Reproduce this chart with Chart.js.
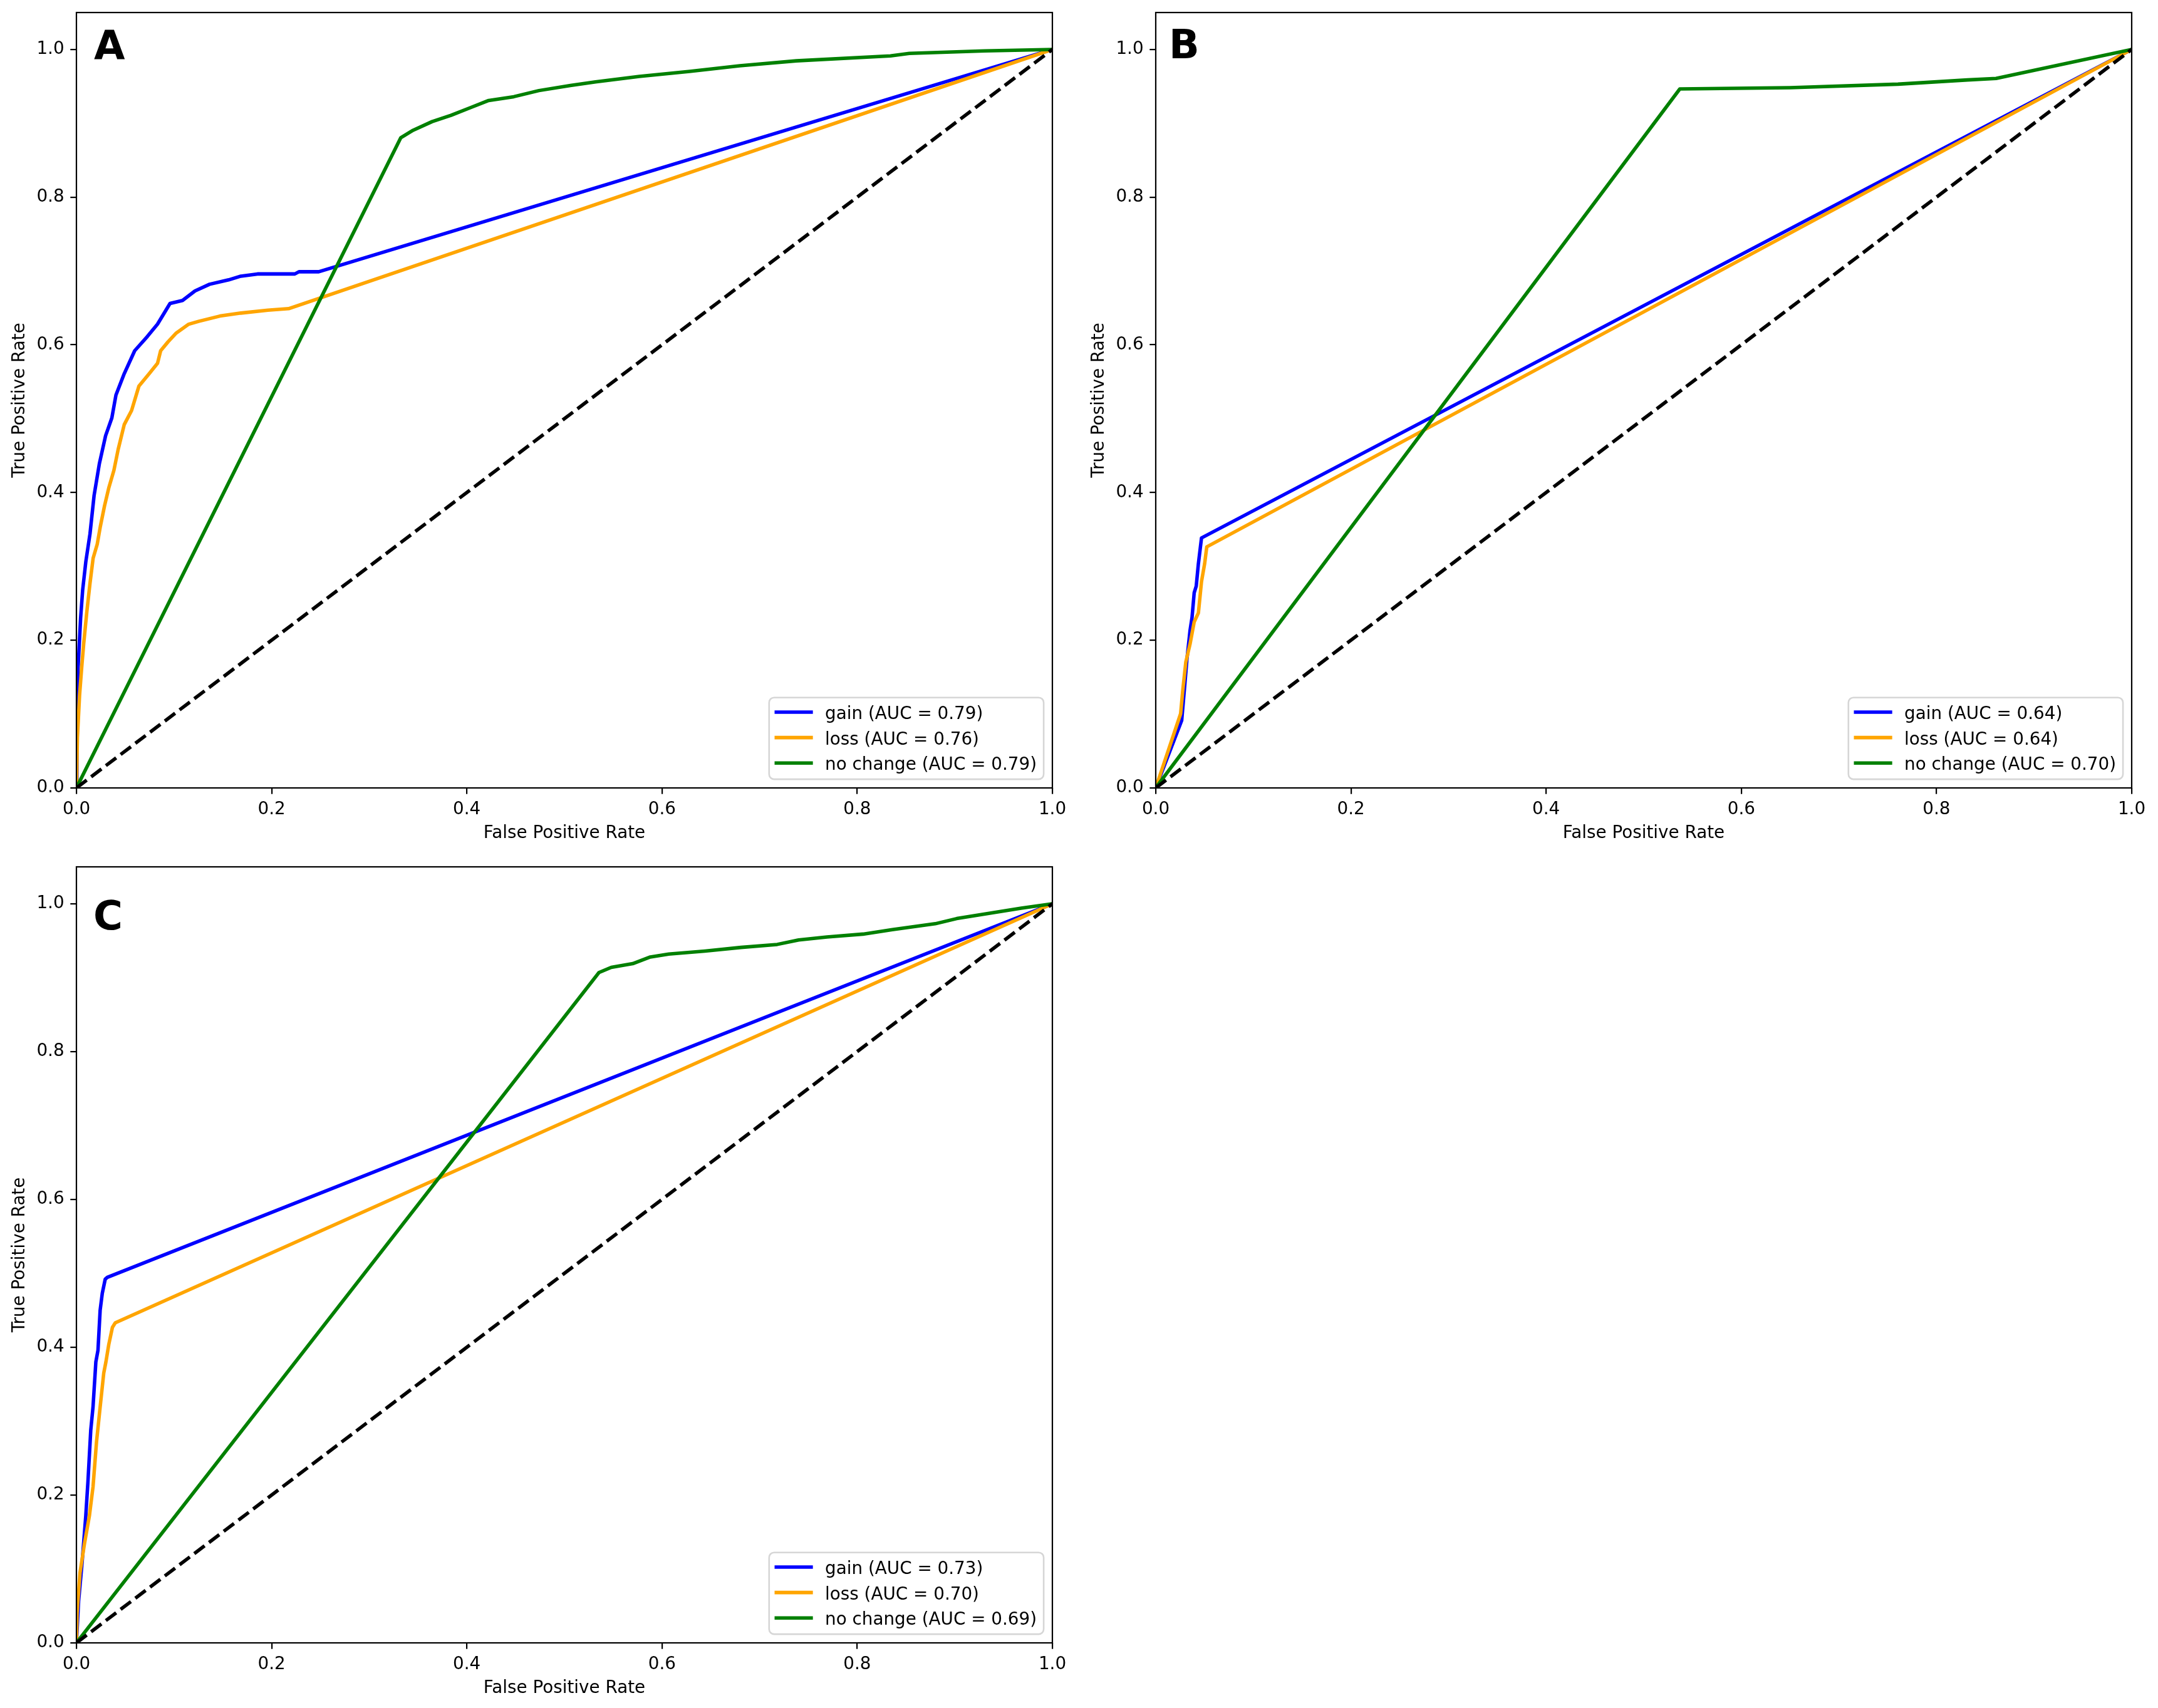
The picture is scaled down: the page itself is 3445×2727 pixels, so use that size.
<!DOCTYPE html>
<html>
<head>
<meta charset="utf-8">
<script src="https://cdn.jsdelivr.net/npm/chart.js@4.4.1/dist/chart.umd.min.js"></script>
<style>
html,body{margin:0;padding:0;background:#fff;}
body{width:3445px;height:2727px;position:relative;overflow:hidden;}
canvas{position:absolute;}
</style>
</head>
<body>
<canvas id="cA"></canvas>
<canvas id="cB"></canvas>
<canvas id="cC"></canvas>
<script>
// ---------------- DATA ----------------
const xTicks = [0, 0.2, 0.4, 0.6, 0.8, 1.0];
const yTicks = [0, 0.2, 0.4, 0.6, 0.8, 1.0];
const seriesNames = ['gain', 'loss', 'no change'];
const aucA = [0.79, 0.76, 0.79];
const aucB = [0.64, 0.64, 0.70];
const aucC = [0.73, 0.70, 0.69];
const diagFpr = [0, 1];
const diagTpr = [0, 1];

// Panel A
const A_gain_fpr = [0, 0.0005, 0.0017, 0.0043, 0.0064, 0.0096, 0.0139, 0.0181, 0.0235, 0.0299, 0.0363, 0.0405, 0.049, 0.0597, 0.0725, 0.0831, 0.0959, 0.1087, 0.1215, 0.1364, 0.156, 0.1684, 0.1855, 0.2238, 0.228, 0.2483, 1];
const A_gain_tpr = [0, 0.087, 0.163, 0.23, 0.268, 0.306, 0.344, 0.396, 0.439, 0.477, 0.501, 0.532, 0.561, 0.592, 0.611, 0.628, 0.656, 0.660, 0.673, 0.682, 0.688, 0.693, 0.696, 0.696, 0.699, 0.699, 1];
const A_loss_fpr = [0, 0.001, 0.0032, 0.0054, 0.0075, 0.0107, 0.0139, 0.0171, 0.0213, 0.0245, 0.0288, 0.0331, 0.0384, 0.0427, 0.049, 0.0565, 0.064, 0.0746, 0.0831, 0.0863, 0.0938, 0.1023, 0.1151, 0.1257, 0.1471, 0.1684, 0.1961, 0.2174, 1];
const A_loss_tpr = [0, 0.068, 0.125, 0.163, 0.196, 0.239, 0.277, 0.311, 0.330, 0.354, 0.382, 0.406, 0.430, 0.458, 0.492, 0.511, 0.544, 0.561, 0.575, 0.592, 0.604, 0.616, 0.628, 0.632, 0.639, 0.643, 0.647, 0.649, 1];
const A_nc_fpr = [0, 0.3324, 0.345, 0.3645, 0.3838, 0.4031, 0.4224, 0.4481, 0.4739, 0.5061, 0.5318, 0.5768, 0.6283, 0.6797, 0.7377, 0.8341, 0.8534, 0.9306, 1];
const A_nc_tpr = [0, 0.8805, 0.8906, 0.9023, 0.9108, 0.9209, 0.9309, 0.936, 0.9443, 0.9511, 0.9561, 0.9635, 0.9702, 0.9779, 0.9846, 0.9913, 0.9947, 0.998, 1];

// Panel B
const B_gain_fpr = [0, 0.0266, 0.0298, 0.0319, 0.0351, 0.0372, 0.0394, 0.0415, 0.0437, 0.0469, 1];
const B_gain_tpr = [0, 0.0914, 0.1399, 0.1733, 0.2127, 0.2309, 0.2643, 0.2733, 0.3036, 0.3385, 1];
const B_loss_fpr = [0, 0.0255, 0.0276, 0.0308, 0.0351, 0.0394, 0.0437, 0.0469, 0.0501, 0.0523, 1];
const B_loss_tpr = [0, 0.1005, 0.1308, 0.1703, 0.1945, 0.2248, 0.2369, 0.2794, 0.3036, 0.3264, 1];
const B_nc_fpr = [0, 0.537, 0.650, 0.7605, 0.8317, 0.861, 1];
const B_nc_tpr = [0, 0.9465, 0.9482, 0.953, 0.9587, 0.9607, 1];

// Panel C
const C_gain_fpr = [0, 0.0022, 0.0059, 0.0096, 0.0118, 0.0147, 0.017, 0.0199, 0.0221, 0.0243, 0.0265, 0.0295, 0.0317, 1];
const C_gain_tpr = [0, 0.056, 0.110, 0.172, 0.218, 0.288, 0.319, 0.380, 0.396, 0.450, 0.473, 0.492, 0.4946, 1];
const C_loss_fpr = [0, 0.0007, 0.0037, 0.0081, 0.0133, 0.017, 0.0206, 0.0243, 0.028, 0.0302, 0.0332, 0.0369, 0.0398, 1];
const C_loss_tpr = [0, 0.041, 0.095, 0.133, 0.172, 0.211, 0.272, 0.319, 0.365, 0.380, 0.404, 0.427, 0.433, 1];
const C_nc_fpr = [0, 0.5354, 0.548, 0.570, 0.588, 0.607, 0.644, 0.681, 0.718, 0.740, 0.769, 0.806, 0.836, 0.880, 0.902, 0.939, 0.968, 1];
const C_nc_tpr = [0, 0.907, 0.914, 0.919, 0.928, 0.932, 0.936, 0.941, 0.945, 0.951, 0.955, 0.959, 0.965, 0.973, 0.980, 0.988, 0.994, 1];

// ---------------- STYLE / LAYOUT ----------------
const COLORS = ['#0000ff', '#ffa500', '#008000'];
const FS = 27.8;           // 10pt @ 200dpi
const LW = 5.56;           // 2pt
const SPINE = 2.2;         // 0.8pt
const TICKLEN = 9.7;       // 3.5pt
const YAXW = 107, XAXH = 89, PADTOP = 32, PADRIGHT = 42;
const FAMILY = '"DejaVu Sans", "Liberation Sans", sans-serif';

Chart.defaults.font.family = FAMILY;
Chart.defaults.font.size = FS;
Chart.defaults.color = '#000';

const pts = (xs, ys) => xs.map((x, i) => ({x: x, y: ys[i]}));

const decor = {
  id: 'decor',
  afterDatasetsDraw(chart, args, opts) {
    const ctx = chart.ctx, a = chart.chartArea;
    ctx.save();
    // spines
    ctx.strokeStyle = '#000';
    ctx.lineWidth = SPINE;
    ctx.strokeRect(a.left, a.top, a.right - a.left, a.bottom - a.top);
    // panel letter
    ctx.fillStyle = '#000';
    ctx.font = 'bold 64px ' + FAMILY;
    ctx.textAlign = 'left';
    ctx.textBaseline = 'alphabetic';
    ctx.fillText(opts.letter, a.left + opts.dx, a.top + opts.dy);
    // legend
    ctx.font = FS + 'px ' + FAMILY;
    const items = chart.data.datasets.filter(d => d.inLegend);
    let maxW = 0;
    items.forEach(d => { maxW = Math.max(maxW, ctx.measureText(d.label).width); });
    const bw = 89.3 + maxW + 11.1, bh = 130.4;
    const bx = a.right - 13.9 - bw, by = a.bottom - 13.9 - bh;
    const r = 8;
    ctx.beginPath();
    ctx.moveTo(bx + r, by);
    ctx.lineTo(bx + bw - r, by);
    ctx.arcTo(bx + bw, by, bx + bw, by + r, r);
    ctx.lineTo(bx + bw, by + bh - r);
    ctx.arcTo(bx + bw, by + bh, bx + bw - r, by + bh, r);
    ctx.lineTo(bx + r, by + bh);
    ctx.arcTo(bx, by + bh, bx, by + bh - r, r);
    ctx.lineTo(bx, by + r);
    ctx.arcTo(bx, by, bx + r, by, r);
    ctx.closePath();
    ctx.fillStyle = 'rgba(255,255,255,0.8)';
    ctx.fill();
    ctx.strokeStyle = '#d6d6d6';
    ctx.lineWidth = 2.6;
    ctx.stroke();
    items.forEach((d, i) => {
      const ly = by + 23.3 + 40.6 * i;
      ctx.beginPath();
      ctx.strokeStyle = d.borderColor;
      ctx.lineWidth = LW;
      ctx.lineCap = 'square';
      ctx.moveTo(bx + 11.5, ly);
      ctx.lineTo(bx + 67.1, ly);
      ctx.stroke();
      ctx.fillStyle = '#000';
      ctx.textBaseline = 'alphabetic';
      ctx.fillText(d.label, bx + 89.3, ly + 11.2);
    });
    ctx.restore();
  }
};

function makePanel(id, plotLeft, plotTop, plotW, plotH, series, aucs, letter, dx, dy) {
  const cv = document.getElementById(id);
  const W = YAXW + plotW + PADRIGHT, H = PADTOP + plotH + XAXH;
  cv.width = W; cv.height = H;
  cv.style.width = W + 'px'; cv.style.height = H + 'px';
  cv.style.left = (plotLeft - YAXW) + 'px';
  cv.style.top = (plotTop - PADTOP) + 'px';
  const datasets = series.map((s, i) => ({
    label: seriesNames[i] + ' (AUC = ' + aucs[i].toFixed(2) + ')',
    inLegend: true,
    data: pts(s[0], s[1]),
    showLine: true,
    borderColor: COLORS[i],
    backgroundColor: COLORS[i],
    borderWidth: LW,
    pointRadius: 0,
    pointHoverRadius: 0,
    tension: 0,
    fill: false,
    borderJoinStyle: 'round',
    borderCapStyle: 'butt',
    clip: 0,
    order: 3 - i
  }));
  datasets.push({
    label: 'diag',
    inLegend: false,
    data: pts(diagFpr, diagTpr),
    showLine: true,
    borderColor: '#000',
    backgroundColor: '#000',
    borderWidth: LW,
    borderDash: [20.6, 8.9],
    pointRadius: 0,
    pointHoverRadius: 0,
    fill: false,
    clip: 0,
    order: 0
  });
  const gridOpts = {
    display: true, drawOnChartArea: false, drawTicks: true,
    tickLength: TICKLEN, tickWidth: SPINE, tickColor: '#000',
    lineWidth: SPINE, color: '#000'
  };
  return new Chart(cv, {
    type: 'scatter',
    data: {datasets: datasets},
    plugins: [decor],
    options: {
      responsive: false,
      devicePixelRatio: 1,
      animation: false,
      events: [],
      layout: {padding: {left: 0, top: PADTOP, right: PADRIGHT, bottom: 0}},
      plugins: {
        legend: {display: false},
        tooltip: {enabled: false},
        decor: {letter: letter, dx: dx, dy: dy}
      },
      scales: {
        x: {
          type: 'linear', position: 'bottom', min: 0, max: 1,
          afterBuildTicks: s => { s.ticks = xTicks.map(v => ({value: v})); },
          afterFit: s => { s.height = XAXH; },
          ticks: {callback: v => Number(v).toFixed(1), padding: 8.5, maxRotation: 0, autoSkip: false, color: '#000', font: {size: FS}},
          grid: gridOpts,
          border: {display: false},
          title: {display: true, text: 'False Positive Rate', padding: 0, color: '#000', font: {size: FS}}
        },
        y: {
          type: 'linear', position: 'left', min: 0, max: 1.05,
          afterBuildTicks: s => { s.ticks = yTicks.map(v => ({value: v})); },
          afterFit: s => { s.width = YAXW; },
          ticks: {callback: v => Number(v).toFixed(1), padding: 9.7, autoSkip: false, color: '#000', font: {size: FS}},
          grid: gridOpts,
          border: {display: false},
          title: {display: true, text: 'True Positive Rate', padding: 0, color: '#000', font: {size: FS}}
        }
      }
    }
  });
}

makePanel('cA', 122, 20, 1558, 1238,
  [[A_gain_fpr, A_gain_tpr], [A_loss_fpr, A_loss_tpr], [A_nc_fpr, A_nc_tpr]], aucA, 'A', 28, 75);
makePanel('cB', 1845, 20, 1558, 1238,
  [[B_gain_fpr, B_gain_tpr], [B_loss_fpr, B_loss_tpr], [B_nc_fpr, B_nc_tpr]], aucB, 'B', 21, 73);
makePanel('cC', 122, 1384, 1558, 1239,
  [[C_gain_fpr, C_gain_tpr], [C_loss_fpr, C_loss_tpr], [C_nc_fpr, C_nc_tpr]], aucC, 'C', 27, 100);
</script>
</body>
</html>
